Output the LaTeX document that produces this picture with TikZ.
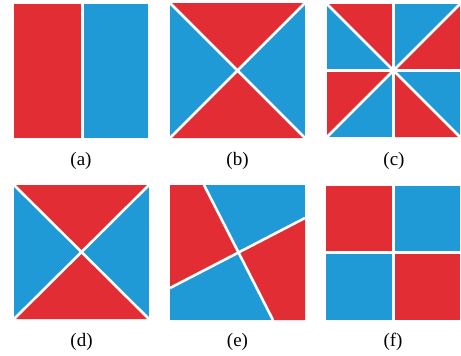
\documentclass[tikz,border=0pt]{standalone}
\usepackage{fontspec}
\setmainfont{Liberation Serif}
\definecolor{cred}{RGB}{227,45,52}
\definecolor{cblue}{RGB}{32,154,214}
\begin{document}
\begin{tikzpicture}[x=1pt,y=-1pt,
  sep/.style={white,line width=2.6pt},
  lab/.style={font=\fontsize{19}{22}\selectfont, inner sep=0pt}]
\useasboundingbox[fill=white] (0,0) rectangle (461,356);
% (a)
\fill[cred] (14,4) rectangle (82.5,138);
\fill[cblue] (82.5,4) rectangle (148,138);
\draw[sep] (82.5,4) -- (82.5,138);
\node[lab] (la) at (81,161) {(a)};
% (b)
\begin{scope}
\clip (170,3) rectangle (305,138);
\fill[cblue] (170,3) rectangle (305,138);
\coordinate (cb) at (237.5,70.5);
\fill[cred] (170,3) -- (305,3) -- (cb) -- cycle;
\fill[cred] (170,138) -- (305,138) -- (cb) -- cycle;
\draw[sep] (170,3) -- (305,138) (305,3) -- (170,138);
\end{scope}
\node[lab] (lb) at (237.5,161) {(b)};
% (c)
\begin{scope}
\clip (327,4) rectangle (460,137);
\fill[cblue] (327,4) rectangle (460,137);
\coordinate (cc) at (393.5,70.5);
\fill[cred] (cc) -- (460,4) -- (460,70.5) -- cycle;
\fill[cred] (cc) -- (460,137) -- (393.5,137) -- cycle;
\fill[cred] (cc) -- (327,137) -- (327,70.5) -- cycle;
\fill[cred] (cc) -- (327,4) -- (393.5,4) -- cycle;
\draw[sep] (327,4) -- (460,137) (460,4) -- (327,137)
  (393.5,4) -- (393.5,137) (327,70.5) -- (460,70.5);
\end{scope}
\node[lab] (lc) at (394,161) {(c)};
% (d)
\begin{scope}
\clip (14,185) rectangle (149,319);
\fill[cblue] (14,185) rectangle (149,319);
\coordinate (cd) at (81.5,252);
\fill[cred] (14,185) -- (149,185) -- (cd) -- cycle;
\fill[cred] (14,319) -- (149,319) -- (cd) -- cycle;
\draw[sep] (14,185) -- (149,319) (149,185) -- (14,319);
\end{scope}
\node[lab] (ld) at (81.5,342) {(d)};
% (e)
\begin{scope}
\clip (170,185) rectangle (305,320);
\fill[cblue] (170,185) rectangle (305,320);
\coordinate (ce) at (238.5,252.5);
\fill[cred] (170,185) -- (204,185) -- (ce) -- (170,288) -- cycle;
\fill[cred] (305,218) -- (305,320) -- (273,320) -- (ce) -- cycle;
\draw[sep] (204,185) -- (273,320) (170,288) -- (305,218);
\end{scope}
\node[lab] (le) at (237.5,342) {(e)};
% (f)
\fill[cred] (326,186) rectangle (393.5,252.5);
\fill[cblue] (393.5,186) rectangle (460,252.5);
\fill[cblue] (326,252.5) rectangle (393.5,320);
\fill[cred] (393.5,252.5) rectangle (460,320);
\draw[sep] (393.5,186) -- (393.5,320) (326,252.5) -- (460,252.5);
\node[lab] (lf) at (393,342) {(f)};
\end{tikzpicture}
\end{document}
